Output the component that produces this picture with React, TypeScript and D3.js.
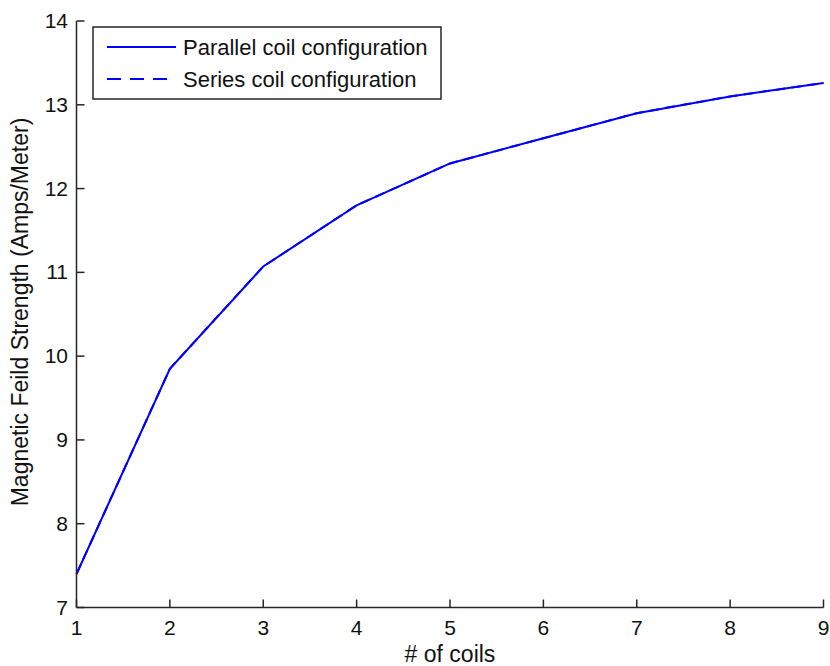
import React from 'react';
import * as d3 from 'd3';

// number of coils on the x axis
const coils = [1, 2, 3, 4, 5, 6, 7, 8, 9];
// field strength (Amps/Meter)
const parallelField = [7.4, 9.85, 11.07, 11.8, 12.3, 12.6, 12.9, 13.1, 13.26];
const seriesField = [7.4, 9.85, 11.07, 11.8, 12.3, 12.6, 12.9, 13.1, 13.26];
const xTicks = [1, 2, 3, 4, 5, 6, 7, 8, 9];
const yTicks = [7, 8, 9, 10, 11, 12, 13, 14];
const legendLabels = ['Parallel coil configuration', 'Series coil configuration'];

const W = 830;
const H = 666;
const FONT = '"Liberation Sans", Arial, Helvetica, sans-serif';

function App() {
  const x = d3.scaleLinear().domain([1, 9]).range([76.5, 823.5]);
  const y = d3.scaleLinear().domain([7, 14]).range([607.5, 21]);

  const line = d3.line<number>()
    .x((_, i) => x(coils[i]))
    .y(d => y(d));

  const axisColor = '#262626';
  const tickLen = 8;

  return (
    <svg width={W} height={H} style={{ position: 'absolute', left: 0, top: 0, background: '#fff' }}>
      <rect width={W} height={H} fill="#fff" />

      {/* data lines */}
      <path d={line(parallelField) ?? ''} fill="none" stroke="#0000ff" strokeWidth={2} />
      <path d={line(seriesField) ?? ''} fill="none" stroke="#0000ff" strokeWidth={2} strokeDasharray="10,6" />

      {/* axes */}
      <line x1={x(1)} x2={x(9)} y1={y(7)} y2={y(7)} stroke={axisColor} strokeWidth={1.5} />
      <line x1={x(1)} x2={x(1)} y1={y(7)} y2={y(14)} stroke={axisColor} strokeWidth={1.5} />

      {xTicks.map(t => (
        <g key={'x' + t}>
          <line x1={x(t)} x2={x(t)} y1={y(7)} y2={y(7) - tickLen} stroke={axisColor} strokeWidth={1.5} />
          <text x={x(t)} y={635} textAnchor="middle" fontFamily={FONT} fontSize={21} fill="#111">{t}</text>
        </g>
      ))}
      {yTicks.map(t => (
        <g key={'y' + t}>
          <line x1={x(1)} x2={x(1) + tickLen} y1={y(t)} y2={y(t)} stroke={axisColor} strokeWidth={1.5} />
          <text x={68} y={y(t) + 7} textAnchor="end" fontFamily={FONT} fontSize={21} fill="#111">{t}</text>
        </g>
      ))}

      {/* axis labels */}
      <text x={450} y={662} textAnchor="middle" fontFamily={FONT} fontSize={23} fill="#111"># of coils</text>
      <text transform="translate(28,312) rotate(-90)" textAnchor="middle" fontFamily={FONT} fontSize={23} fill="#111">
        Magnetic Feild Strength (Amps/Meter)
      </text>

      {/* legend */}
      <rect x={93} y={27} width={348} height={72} fill="#fff" stroke={axisColor} strokeWidth={1.5} />
      {legendLabels.map((lbl, i) => {
        const ly = 47 + i * 32;
        return (
          <g key={lbl}>
            <line x1={107} x2={176} y1={ly} y2={ly} stroke="#0000ff" strokeWidth={2} strokeDasharray={i === 1 ? '14,9' : undefined} />
            <text x={183} y={ly + 8} fontFamily={FONT} fontSize={22} fill="#111">{lbl}</text>
          </g>
        );
      })}
    </svg>
  );
}

export default App;
